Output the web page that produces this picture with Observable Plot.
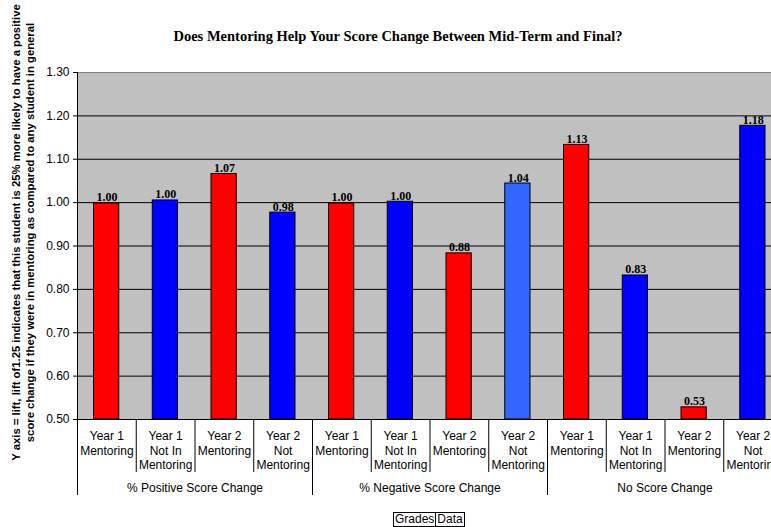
<!DOCTYPE html>
<html>
<head>
<meta charset="utf-8">
<script src="https://cdn.jsdelivr.net/npm/d3@7"></script>
<script src="https://cdn.jsdelivr.net/npm/@observablehq/plot@0.6"></script>
<style>
  html, body { margin: 0; padding: 0; background: #fff; }
  #chart svg { display: block; overflow: hidden; }
  .buttons { margin-left: 393px; margin-top: 7px; height: 15px; display: flex; font-family: "Liberation Sans", Arial, sans-serif; font-size: 12px; line-height: 13px; }
  .buttons span { border: 1px solid #000; padding: 0 1px; background: #fff; }
  .buttons span + span { border-left: none; }
</style>
</head>
<body>
<div id="chart"></div>
<div class="buttons"><span>Grades</span><span>Data</span></div>
<script>
const title = "Does Mentoring Help Your Score Change Between Mid-Term and Final?";
const yLabel = "Y axis = lift, lift of1.25 indicates that this student is 25% more likely to have a positive\nscore change if they were in mentoring as compared to any student in general";
const groups = ["% Positive Score Change", "% Negative Score Change", "No Score Change"];
const subcategories = ["Year 1\nMentoring", "Year 1\nNot In\nMentoring", "Year 2\nMentoring", "Year 2\nNot\nMentoring"];
const series = ["Mentoring", "Not Mentoring", "Mentoring", "Not Mentoring"];
const positiveValues = [0.998, 1.005, 1.066, 0.977];
const negativeValues = [0.998, 1.002, 0.883, 1.044];
const noChangeValues = [1.133, 0.832, 0.528, 1.177];
const yTicks = [0.5, 0.6, 0.7, 0.8, 0.9, 1.0, 1.1, 1.2, 1.3];

const groupValues = [positiveValues, negativeValues, noChangeValues];
const nSub = subcategories.length;
const bars = [];
groupValues.forEach((vals, g) => vals.forEach((v, s) => {
  bars.push({slot: g * nSub + s, group: groups[g], sub: subcategories[s], series: series[s], value: v,
             highlight: g === 1 && s === 3});
}));
const yMin = yTicks[0], yMax = yTicks[yTicks.length - 1];
const nSlots = bars.length;
const boundaries = d3.range(nSlots + 1);
const groupBoundaries = boundaries.filter(b => b % nSub === 0);
const subBoundaries = boundaries.filter(b => b % nSub !== 0);
const colorOf = d => d.highlight ? "#3366ff" : (d.series === "Mentoring" ? "#ff0000" : "#0000ff");

const sans = "'Liberation Sans', Arial, sans-serif";
const serif = "'Liberation Serif', 'Times New Roman', serif";

const chart = Plot.plot({
  width: 771,
  height: 505,
  marginLeft: 77,
  marginRight: -11,
  marginTop: 72,
  marginBottom: 86,
  style: {fontFamily: sans, overflow: "hidden", background: "white", color: "black"},
  x: {domain: [0, nSlots], axis: null},
  y: {domain: [yMin, yMax], axis: null},
  marks: [
    Plot.frame({fill: "#c0c0c0", stroke: "none"}),
    Plot.ruleY(yTicks.slice(1, -1), {stroke: "black", strokeWidth: 1}),
    Plot.ruleY([yMax], {stroke: "#808080", strokeWidth: 1}),
    Plot.rectY(bars, {
      x1: "slot", x2: d => d.slot + 1, y1: yMin, y2: "value",
      insetLeft: 16.5, insetRight: 17,
      fill: colorOf, stroke: "black", strokeWidth: 1
    }),
    Plot.text(bars, {
      x: d => d.slot + 0.5, y: "value", text: d => d3.format(".2f")(d.value),
      lineAnchor: "bottom", dy: -2, fontFamily: serif, fontWeight: "bold", fontSize: 12, fill: "black"
    }),
    Plot.ruleY([yMin], {stroke: "black", strokeWidth: 1}),
    Plot.ruleX([0], {stroke: "black", strokeWidth: 1}),
    Plot.axisY({ticks: yTicks, tickFormat: d3.format(".2f"), tickSize: 4, tickPadding: 4,
      fontSize: 12, label: null, stroke: "black", fill: "black"}),
    Plot.ruleX(subBoundaries, {x: d => d, y1: yMin, y2: yMin, insetBottom: -53, stroke: "black"}),
    Plot.ruleX(groupBoundaries, {x: d => d, y1: yMin, y2: yMin, insetBottom: -76, stroke: "black"}),
    Plot.text(bars, {
      x: d => d.slot + 0.5, y: yMin, text: "sub", lineAnchor: "top", dy: 10,
      lineHeight: 1.22, fontSize: 12, fill: "black"
    }),
    Plot.text(groups, {
      x: (d, i) => i * nSub + nSub / 2, y: yMin, text: d => d, lineAnchor: "middle", dy: 69,
      fontSize: 12, fill: "black"
    }),
    Plot.text([title], {
      frameAnchor: "top", dx: -32, dy: -42, text: d => d, fontFamily: serif,
      fontWeight: "bold", fontSize: 14.5, fill: "black"
    }),
    Plot.text([yLabel], {
      frameAnchor: "left", textAnchor: "middle", rotate: -90, dx: -55, dy: -13.5, text: d => d,
      lineAnchor: "middle", lineHeight: 1.28, fontWeight: "bold", fontSize: 11.3, fill: "black"
    })
  ]
});
document.getElementById("chart").appendChild(chart);
</script>
</body>
</html>
